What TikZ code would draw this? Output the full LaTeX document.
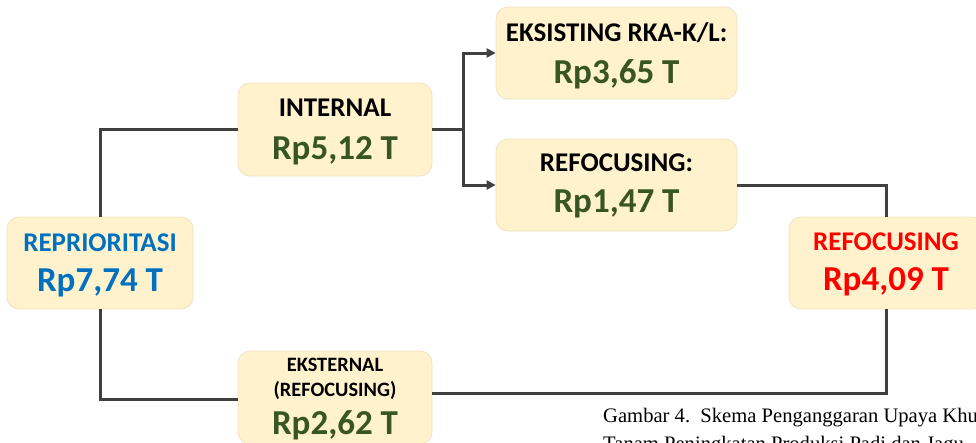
\documentclass[tikz,border=0pt]{standalone}
\usepackage{fontspec}
\setmainfont{Carlito}
\newfontfamily\capfont{Liberation Serif}
\usetikzlibrary{arrows.meta}
\definecolor{boxfill}{HTML}{FFF2CC}
\definecolor{boxline}{HTML}{EFE3C2}
\definecolor{conn}{HTML}{404040}
\definecolor{valgreen}{HTML}{375623}
\definecolor{valblue}{HTML}{0070C0}
\definecolor{valred}{HTML}{FF0000}
\tikzset{
  box/.style={draw=boxline, line width=0.8pt, fill=boxfill, rounded corners=12pt, inner sep=0pt},
  link/.style={draw=conn, line width=3pt},
  arr/.style={link, -{Triangle[length=9pt,width=9pt]}},
  hdr/.style={anchor=base, inner sep=0pt, font=\bfseries\fontsize{27}{31}\selectfont},
  hds/.style={anchor=base, inner sep=0pt, font=\bfseries\fontsize{20.4}{24}\selectfont},
  val/.style={anchor=base, inner sep=0pt, font=\bfseries\fontsize{35}{41}\selectfont, text=valgreen},
  captext/.style={anchor=base west, inner sep=0pt, font=\capfont\fontsize{20.6}{24}\selectfont},
}
\begin{document}
\begin{tikzpicture}[x=1pt,y=-1pt]
\useasboundingbox (0,0) rectangle (976,442);
\clip (0,0) rectangle (976,442);
\fill[white] (0,0) rectangle (976,442);
% boxes
\node[box, minimum width=186pt, minimum height=92pt] (rep) at (100,263) {};
\node[box, minimum width=194pt, minimum height=93pt] (int) at (335,129.5) {};
\node[box, minimum width=241pt, minimum height=92pt] (eks) at (616.5,53) {};
\node[box, minimum width=241pt, minimum height=92pt] (ref) at (616.5,185) {};
\node[box, minimum width=194pt, minimum height=92pt] (red) at (886,263) {};
\node[box, minimum width=194pt, minimum height=93pt] (ext) at (335,397.5) {};
% texts
\node[hdr, text=valblue] (repH) at (100,251.4) {REPRIORITASI};
\node[val, text=valblue] (repV) at (100,291.3) {Rp7,74 T};
\node[hdr] (intH) at (335,116.5) {INTERNAL};
\node[val] (intV) at (335,159.3) {Rp5,12 T};
\node[hdr] (eksH) at (616.5,41.4) {EKSISTING RKA-K/L:};
\node[val] (eksV) at (616.5,83.3) {Rp3,65 T};
\node[hdr] (refH) at (616.5,171.4) {REFOCUSING:};
\node[val] (refV) at (616.5,212.3) {Rp1,47 T};
\node[hdr, text=valred] (redH) at (886,250.4) {REFOCUSING};
\node[val, text=valred] (redV) at (886,290.3) {Rp4,09 T};
\node[hds] (extH1) at (335,371.5) {EKSTERNAL};
\node[hds] (extH2) at (335,396.5) {(REFOCUSING)};
\node[val] (extV) at (335,434.3) {Rp2,62 T};
% connectors
\draw[link] (rep.north) |- (int.west);
\draw[link] (int.east) -- ++(31,0) coordinate (split);
\draw[arr] (split) |- (eks.west);
\draw[arr] (split) |- (ref.west);
\draw[link] (ref.east) -| (red.north);
\draw[link] (rep.south) |- ([yshift=-1.5pt]ext.west);
\draw[link] ([yshift=4.5pt]ext.east) -| (red.south);
% caption
\node[captext] (cap1) at (603,422) {Gambar 4.\ \ Skema Penganggaran Upaya Khu};
\node[captext] (cap2) at (603,450) {Tanam Peningkatan Produksi Padi dan Jagu};
\end{tikzpicture}
\end{document}
